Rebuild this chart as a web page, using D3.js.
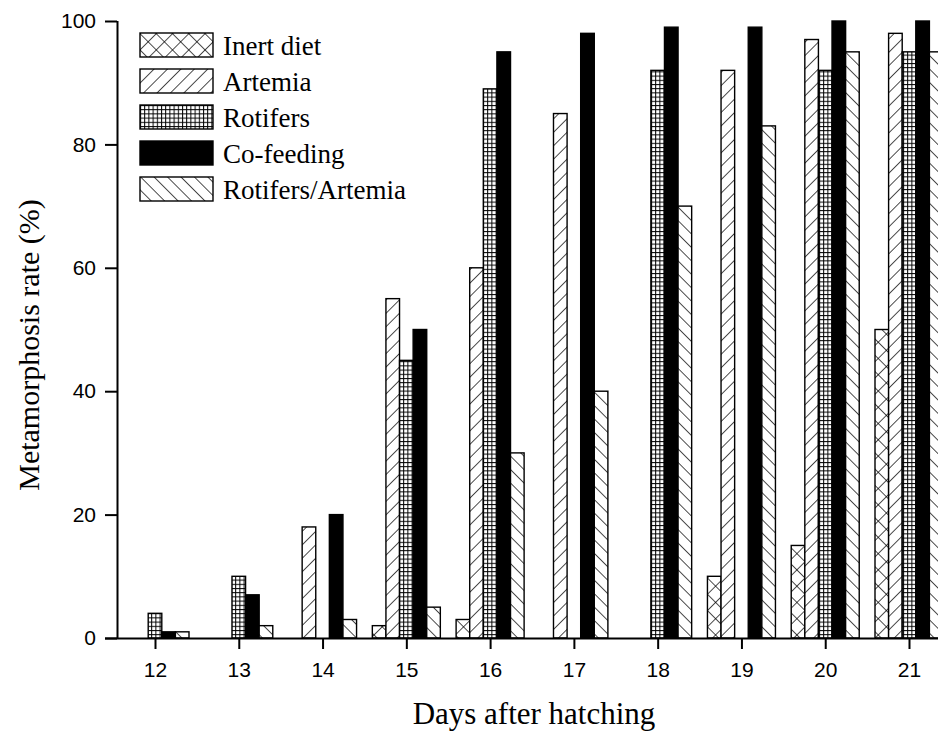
<!DOCTYPE html>
<html>
<head>
<meta charset="utf-8">
<script src="https://cdn.jsdelivr.net/npm/d3@7"></script>
<style>
  body { margin: 0; background: #fff; }
  svg { display: block; }
</style>
</head>
<body>
<svg id="chart"></svg>
<script>
// data
const days = [12, 13, 14, 15, 16, 17, 18, 19, 20, 21];
const series = ['Inert diet', 'Artemia', 'Rotifers', 'Co-feeding', 'Rotifers/Artemia'];
const inertDiet      = [0, 0, 0, 2, 3, 0, 0, 10, 15, 50];
const artemia        = [0, 0, 18, 55, 60, 85, 0, 92, 97, 98];
const rotifers       = [4, 10, 0, 45, 89, 0, 92, 0, 92, 95];
const coFeeding      = [1, 7, 20, 50, 95, 98, 99, 99, 100, 100];
const rotifersArtemia = [1, 2, 3, 5, 30, 40, 70, 83, 95, 95];
const yTicks = [0, 20, 40, 60, 80, 100];

const values = [inertDiet, artemia, rotifers, coFeeding, rotifersArtemia];
const fills = ['url(#cross)', 'url(#fwd)', 'url(#grid)', '#000', 'url(#back)'];

const width = 938, height = 733;
const svg = d3.select('#chart').attr('width', width).attr('height', height);

// patterns
const defs = svg.append('defs');
function hatch(id, size, angle, lines, sw) {
  const p = defs.append('pattern')
    .attr('id', id)
    .attr('patternUnits', 'userSpaceOnUse')
    .attr('width', size).attr('height', size)
    .attr('patternTransform', `rotate(${angle})`);
  p.append('rect').attr('width', size).attr('height', size).attr('fill', '#fff');
  lines.forEach(l => {
    p.append('line')
      .attr('x1', l[0]).attr('y1', l[1]).attr('x2', l[2]).attr('y2', l[3])
      .attr('stroke', '#000').attr('stroke-width', sw);
  });
}
hatch('fwd', 9.5, 45, [[0, 0, 0, 9.5]], 1.4);
hatch('back', 9.5, -45, [[0, 0, 0, 9.5]], 1.4);
hatch('cross', 11.5, 45, [[0, 0, 0, 11.5], [0, 0, 11.5, 0]], 1.4);
hatch('grid', 4.2, 0, [[0.5, 0, 0.5, 4.2], [0, 0.5, 4.2, 0.5]], 1);

// scales
const x = d3.scaleLinear().domain([12, 21]).range([155, 909]);
const xs = d3.scaleBand().domain(series).range([-34, 34]);
const y = d3.scaleLinear().domain([0, 100]).range([638, 21]);

// bars
const data = [];
days.forEach((d, i) => series.forEach((s, j) => data.push({ day: d, s: s, j: j, v: values[j][i] })));

svg.append('g').selectAll('rect')
  .data(data.filter(d => d.v > 0))
  .join('rect')
  .attr('x', d => x(d.day) + xs(d.s))
  .attr('y', d => y(d.v))
  .attr('width', xs.bandwidth())
  .attr('height', d => y(0) - y(d.v))
  .attr('fill', d => fills[d.j])
  .attr('stroke', '#000')
  .attr('stroke-width', 1.4);

// axes
const xAxis = svg.append('g')
  .attr('transform', `translate(0,${y(0)})`)
  .call(d3.axisBottom(x).tickValues(days).tickFormat(d3.format('d')).tickSize(11).tickPadding(13));
xAxis.select('.domain').attr('d', `M${105},0.5H${width}`);

const yAxis = svg.append('g')
  .attr('transform', 'translate(117,0)')
  .call(d3.axisLeft(y).tickValues(yTicks).tickSize(12).tickPadding(9));
yAxis.select('.domain').attr('d', `M0.5,${y(0)}V${y(100)}`);

svg.selectAll('.domain').attr('stroke', '#000').attr('stroke-width', 2);
svg.selectAll('.tick line').attr('stroke', '#000').attr('stroke-width', 2);
svg.selectAll('.tick text')
  .attr('fill', '#000')
  .style('font-family', '"Liberation Sans", Arial, sans-serif')
  .style('font-size', '21px');

// titles
svg.append('text')
  .attr('x', 534).attr('y', 724)
  .attr('text-anchor', 'middle')
  .style('font-family', '"Liberation Serif", "Times New Roman", serif')
  .style('font-size', '31px')
  .text('Days after hatching');

svg.append('text')
  .attr('transform', 'translate(39,345) rotate(-90)')
  .attr('text-anchor', 'middle')
  .style('font-family', '"Liberation Serif", "Times New Roman", serif')
  .style('font-size', '30px')
  .text('Metamorphosis rate (%)');

// legend
const legend = svg.append('g').attr('transform', 'translate(140,33)');
const item = legend.selectAll('g')
  .data(series)
  .join('g')
  .attr('transform', (d, i) => `translate(0,${i * 36})`);
item.append('rect')
  .attr('width', 73).attr('height', 24)
  .attr('fill', (d, i) => fills[i])
  .attr('stroke', '#000').attr('stroke-width', 1.4);
item.append('text')
  .attr('x', 83).attr('y', 22)
  .style('font-family', '"Liberation Serif", "Times New Roman", serif')
  .style('font-size', '27px')
  .text(d => d);
</script>
</body>
</html>
